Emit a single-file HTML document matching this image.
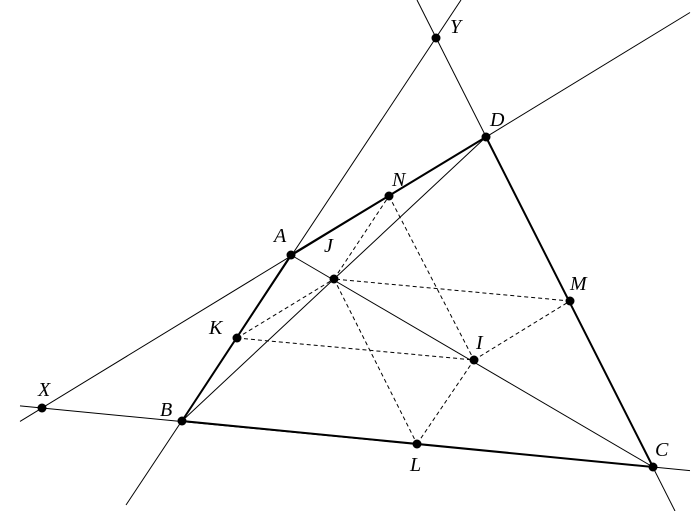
<!DOCTYPE html>
<html><head><style>body{margin:0;background:#fff}svg{display:block}text{font-family:"Liberation Serif",serif;font-style:italic;font-size:20px}</style></head><body>
<svg width="700" height="511" viewBox="0 0 700 511" xmlns="http://www.w3.org/2000/svg">
<g stroke="#000" fill="none" stroke-width="1">
<line x1="20" y1="421.4" x2="690" y2="12.5"/>
<line x1="126" y1="505" x2="461" y2="0"/>
<line x1="417" y1="0" x2="675" y2="511"/>
<line x1="20" y1="405.9" x2="690" y2="470.6"/>
<line x1="182" y1="421" x2="486" y2="137"/>
<line x1="291" y1="255" x2="653" y2="467"/>
</g>
<g stroke="#000" fill="none" stroke-width="2">
<polyline points="486,137 291,255 182,421 653,467 486,137"/>
</g>
<g stroke="#000" fill="none" stroke-width="1" stroke-dasharray="4,3">
<line x1="237" y1="338" x2="334" y2="279"/>
<line x1="334" y1="279" x2="389" y2="196"/>
<line x1="389" y1="196" x2="474" y2="360"/>
<line x1="474" y1="360" x2="570" y2="301"/>
<line x1="570" y1="301" x2="334" y2="279"/>
<line x1="237" y1="338" x2="474" y2="360"/>
<line x1="334" y1="279" x2="417" y2="444"/>
<line x1="417" y1="444" x2="474" y2="360"/>
</g>
<g fill="#000">
<circle cx="436" cy="38" r="4.5"/><circle cx="486" cy="137" r="4.5"/><circle cx="389" cy="196" r="4.5"/>
<circle cx="291" cy="255" r="4.5"/><circle cx="334" cy="279" r="4.5"/><circle cx="570" cy="301" r="4.5"/>
<circle cx="237" cy="338" r="4.5"/><circle cx="474" cy="360" r="4.5"/><circle cx="42" cy="408" r="4.5"/>
<circle cx="182" cy="421" r="4.5"/><circle cx="417" cy="444" r="4.5"/><circle cx="653" cy="467" r="4.5"/>
<text x="450" y="33">Y</text><text x="490" y="126">D</text><text x="392" y="186">N</text>
<text x="274" y="242">A</text><text x="324" y="252">J</text><text x="570" y="290">M</text>
<text x="209" y="334">K</text><text x="476" y="349">I</text><text x="38" y="396">X</text>
<text x="160" y="416">B</text><text x="410" y="471">L</text><text x="655" y="456">C</text>
</g>
</svg>
</body></html>
